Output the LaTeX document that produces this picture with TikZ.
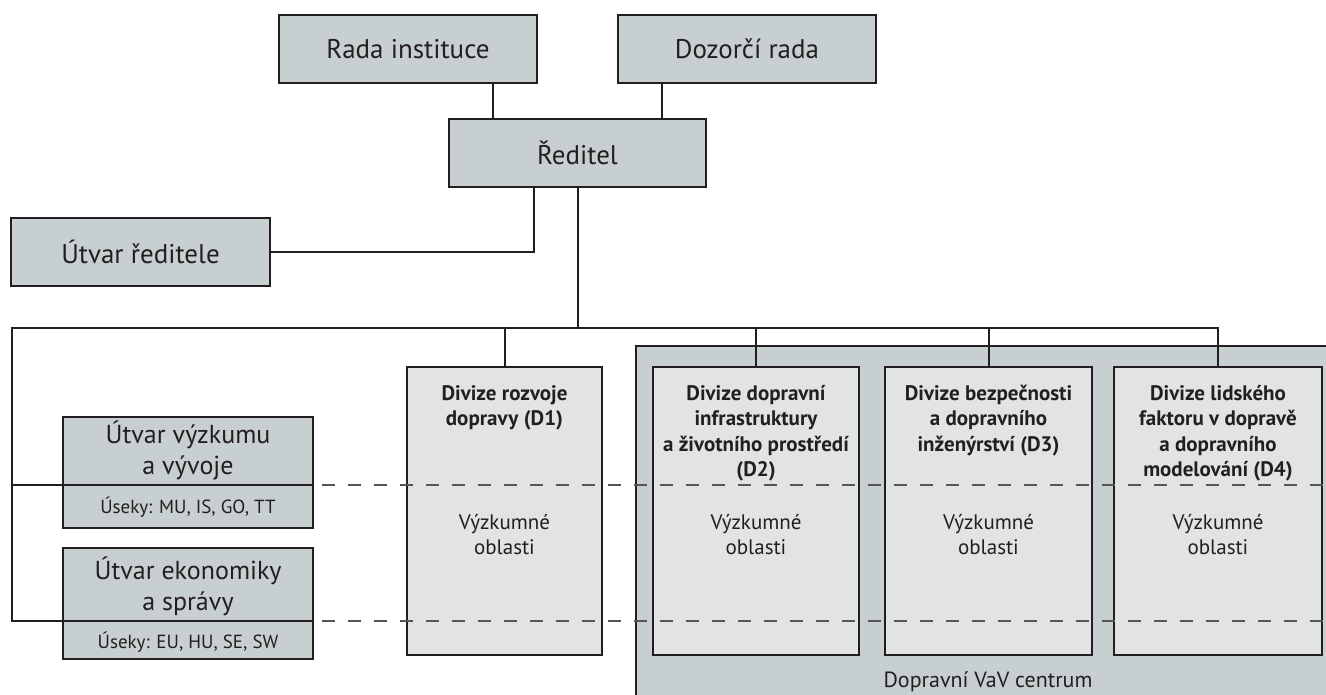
\documentclass[tikz,border=0pt]{standalone}
\usepackage{fontspec}
\setmainfont{PT Sans}
\definecolor{boxdark}{RGB}{200,207,208}
\definecolor{boxlight}{RGB}{225,228,227}
\definecolor{ink}{RGB}{35,31,32}
\definecolor{dashc}{RGB}{85,85,85}
\begin{document}
\begin{tikzpicture}[x=1pt,y=-1pt,
  every node/.style={text=ink, inner sep=0pt},
  darkbox/.style={draw=ink, line width=2.3pt, fill=boxdark},
  lightbox/.style={draw=ink, line width=2.3pt, fill=boxlight},
  conn/.style={draw=ink, line width=2pt},
  dashline/.style={draw=dashc, line width=1.6pt, dash pattern=on 13pt off 13pt},
  bigtxt/.style={font=\fontsize{27}{31}\selectfont},
  midtxt/.style={font=\fontsize{26}{31}\selectfont, align=center},
  smalltxt/.style={font=\fontsize{19}{22}\selectfont},
  divtitle/.style={font=\bfseries\fontsize{21}{25.5}\selectfont, align=center},
  divarea/.style={font=\fontsize{21}{25}\selectfont, align=center}
]
\useasboundingbox (0,0) rectangle (1326,694);
\fill[white] (0,0) rectangle (1326,694);
% container
\begin{scope}
\clip (0,0) rectangle (1326,694);
\node[darkbox, minimum width=704pt, minimum height=374pt] (vav) at (988,533) {};
\end{scope}
\node[anchor=base, font=\fontsize{22}{26}\selectfont] (vavlabel) at (988,687) {Dopravní VaV centrum};

% top boxes
\node[darkbox, bigtxt, minimum width=258pt, minimum height=68pt] (rada) at (408,49) {Rada instituce};
\node[darkbox, bigtxt, minimum width=258pt, minimum height=68pt] (dozor) at (747,49) {Dozorčí rada};
\node[darkbox, bigtxt, minimum width=257pt, minimum height=68pt] (reditel) at (577.5,153) {Ředitel};
\node[darkbox, bigtxt, minimum width=259pt, minimum height=68pt] (utvred) at (140.5,252) {Útvar ředitele};

% left units
\node[darkbox, minimum width=250pt, minimum height=111pt] (vyz) at (188,472.5) {};
\node[darkbox, minimum width=250pt, minimum height=111pt] (eko) at (188,603.5) {};
\node[midtxt, anchor=base] (vyzt) at (188,474) {Útvar výzkumu\\a vývoje};
\node[smalltxt, anchor=base] (vyzs) at (188,513) {Úseky: MU, IS, GO, TT};
\node[midtxt, anchor=base] (ekot) at (188,610) {Útvar ekonomiky\\a správy};
\node[smalltxt, anchor=base] (ekos) at (188,648) {Úseky: EU, HU, SE, SW};

% divisions
\node[lightbox, minimum width=195pt, minimum height=288pt] (d1) at (504.5,511) {};
\node[lightbox, minimum width=206pt, minimum height=288pt] (d2) at (756,511) {};
\node[lightbox, minimum width=207pt, minimum height=288pt] (d3) at (988.5,511) {};
\node[lightbox, minimum width=208pt, minimum height=288pt] (d4) at (1218,511) {};

\node[divtitle, anchor=base] (d1t) at (504.5,425.5) {Divize rozvoje\\dopravy (D1)};
\node[divtitle, anchor=base] (d2t) at (756,476.5) {Divize dopravní\\infrastruktury\\a životního prostředí\\(D2)};
\node[divtitle, anchor=base] (d3t) at (988.5,451) {Divize bezpečnosti\\a dopravního\\inženýrství (D3)};
\node[divtitle, anchor=base] (d4t) at (1218,476.5) {Divize lidského\\faktoru v dopravě\\a dopravního\\modelování (D4)};

\foreach \n/\x in {d1a/504.5, d2a/756, d3a/988.5, d4a/1218}
  \node[divarea, anchor=base] (\n) at (\x,554) {Výzkumné\\oblasti};

% coordinates
\coordinate (bus) at (577.5,328);
\coordinate (busL) at (12,328);
\coordinate (row1) at (12,485);
\coordinate (row2) at (12,621);
\coordinate (rEnd) at (1326,0);

% connectors
\draw[conn] ([xshift=85pt]rada.south) -- ([xshift=85pt]rada.south |- reditel.north);
\draw[conn] ([xshift=-85pt]dozor.south) -- ([xshift=-85pt]dozor.south |- reditel.north);
\draw[conn] ([xshift=-43.5pt]reditel.south) |- (utvred.east);
\draw[conn] (reditel.south) -- (bus);
\draw[conn] (d4.north) |- (busL) -- (row2) -- (row2 -| eko.east);
\draw[conn] (row1) -- (row1 -| vyz.east);
\draw[conn] (d1.north) -- (d1.north |- bus);
\draw[conn] (d2.north) -- (d2.north |- bus);
\draw[conn] (d3.north) -- (d3.north |- bus);

% dashed levels
\draw[dashline] ([xshift=8pt]row1 -| vyz.east) -- (row1 -| rEnd);
\draw[dashline] ([xshift=8pt]row2 -| eko.east) -- (row2 -| rEnd);
\end{tikzpicture}
\end{document}
